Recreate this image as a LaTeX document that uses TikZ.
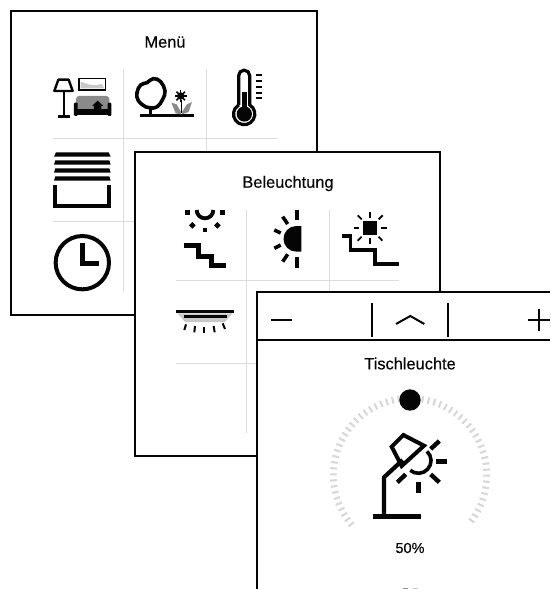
\documentclass[tikz,border=0pt]{standalone}
\usepackage{fontspec}
\setmainfont{Liberation Sans}
\newfontfamily\uifont[FakeBold=0.3]{Liberation Sans}
\definecolor{ink}{HTML}{050505}
\definecolor{gridc}{HTML}{DDDDDD}
\definecolor{tickc}{HTML}{D8D8D8}
\definecolor{midg}{HTML}{8A8A8A}
\definecolor{lightg}{HTML}{C8C8C8}
\tikzset{
  panel/.style={fill=white,draw=ink,line width=2pt},
  frameline/.style={draw=ink,line width=2pt},
  gridline/.style={draw=gridc,line width=1pt},
  titletext/.style={text=ink,font=\uifont\fontsize{16.4}{18}\selectfont,inner sep=0pt},
  ico/.style={draw=ink,line width=#1,line cap=butt},
  ico/.default=3pt,
  zoomA/.style={shift={(10,10)},x=0.33333pt,y=-0.33333pt},
  zoomB/.style={shift={(10,130)},x=0.33333pt,y=-0.33333pt},
  zoomC/.style={shift={(135,150)},x=0.33333pt,y=-0.33333pt},
  zoomD/.style={shift={(135,290)},x=0.33333pt,y=-0.33333pt},
  zoomE/.style={shift={(255,285)},x=0.33333pt,y=-0.33333pt},
  zoomF/.style={shift={(320,380)},x=0.33333pt,y=-0.33333pt},
}
\begin{document}
\begin{tikzpicture}[x=1pt,y=-1pt]
\clip (0,0) rectangle (550,589);
\fill[white] (0,0) rectangle (550,589);
% ---------- Panel 1
\draw[panel] (11,11) rectangle (317,315);
\node[titletext] (menu) at (165,42) {Menü};
\draw[gridline] (123,69) -- (123,292);
\draw[gridline] (206,69) -- (206,292);
\draw[gridline] (53,138.7) -- (277,138.7);
\draw[gridline] (53,221) -- (277,221);
\begin{scope}[zoomA]
  % floor lamp
  \draw[ico=2.4pt,line join=round] (145,209) -- (176,209) -- (188,243) -- (133,243) -- cycle;
  \draw[ico=2.6pt] (162,243) -- (162,318);
  \draw[ico=2.6pt] (145,319) -- (180,319);
  % picture
  \fill[lightg] (212,235) -- (212,215) -- (235,223) -- (255,226) -- (275,222) -- (283,235) -- cycle;
  \draw[ico=1.6pt] (207,205) rectangle (287,240);
  % sofa
  \fill[midg,rounded corners=3pt] (198,258) rectangle (298,300);
  \fill[ink,rounded corners=1pt] (192,278) rectangle (203,318);
  \fill[ink,rounded corners=1pt] (293,278) rectangle (304,318);
  \fill[ink] (192,297) rectangle (304,316);
  \fill[ink] (263,272) -- (280,288) -- (274,288) -- (274,297) -- (252,297) -- (252,288) -- (246,288) -- cycle;
  % tree
  \draw[ico=3.6pt] plot[smooth cycle,tension=0.7] coordinates {(408,291) (385,272) (381,248) (392,225) (411,218) (430,206) (452,215) (465,243) (458,268) (442,290) (423,294)};
  \draw[ico=3pt] (423,293) -- (423,317);
  \draw[ico=3.6pt] (390,317) -- (551,317);
  % flower
  \fill[midg] (484,278) -- (500,283) -- (513,306) -- (513,313) -- (497,310) -- cycle;
  \fill[midg] (546,276) -- (536,306) -- (516,313) -- (516,306) -- (530,284) -- cycle;
  \foreach \a in {0,45,...,315}{\draw[ico=1.6pt] (512,258) -- ++(\a:18);}
  \fill[ink] (512,258) circle[radius=11];
  \draw[ico=1.2pt] (514,270) -- (514,310);
  % thermometer
  \draw[ico=3.2pt] (686,284.6) -- (686,197) arc[start angle=180,end angle=360,radius=16.5] -- (719,284.6)
     arc[start angle=-59,end angle=239,radius=32];
  \fill[ink] (703,312) circle[radius=23];
  \fill[ink] (695,245) rectangle (712,300);
  \foreach \y in {195,212,230,248,265}{\draw[ico=2.2pt] (737,\y) -- (757,\y);}
\end{scope}
\begin{scope}[zoomB]
  % blinds
  \fill[ink] (138,67) -- (296,67) -- (302,80) -- (132,80) -- cycle;
  \fill[ink] (136,91) -- (298,91) -- (302,104) -- (132,104) -- cycle;
  \fill[ink] (136,115) -- (298,115) -- (302,128) -- (132,128) -- cycle;
  \fill[ink] (136,139) -- (298,139) -- (302,152) -- (132,152) -- cycle;
  \draw[ico=4.2pt,line join=miter] (136,165) -- (136,229) -- (297,229) -- (297,165);
  % clock
  \draw[ico=4pt] (217,398) circle[radius=80];
  \draw[ico=4.4pt] (217,338) -- (217,400) -- (268,400);
\end{scope}
% ---------- Panel 2
\draw[panel] (135,152) rectangle (440,456);
\node[titletext] (light) at (288,183.5) {Beleuchtung};
\draw[gridline] (246,210) -- (246,433);
\draw[gridline] (329,210) -- (329,433);
\draw[gridline] (176,280) -- (399,280);
\draw[gridline] (176,363) -- (399,363);
\begin{scope}[zoomC]
  % dusk/stairs icon
  \fill[ink] (150,180) rectangle (164,194);
  \fill[ink] (256,180) rectangle (270,194);
  \fill[ink] (203,233) rectangle (217,247);
  \fill[ink] (172,216) -- (182,226) -- (172,236) -- (162,226) -- cycle;
  \fill[ink] (247,216) -- (257,226) -- (247,236) -- (237,226) -- cycle;
  \draw[ico=3.8pt] (185,180) arc[start angle=180,end angle=0,radius=25];
  \draw[ico=5pt] (146,286) -- (190,286) -- (190,318) -- (228,318) -- (228,346) -- (274,346);
  % half sun
  \fill[ink] (499,228) -- (484,228) arc[start angle=270,end angle=90,radius=38.5] -- (499,305) -- cycle;
  \draw[ico=3.6pt] (486,180) -- (486,210);
  \draw[ico=3.6pt] (443,200) -- (458,222);
  \draw[ico=3.6pt] (418,240) -- (437,249);
  \draw[ico=3.6pt] (418,295) -- (437,285);
  \draw[ico=3.6pt] (443,335) -- (458,313);
  \draw[ico=3.6pt] (486,322) -- (486,353);
  % square sun stairs
  \fill[ink] (683,212) rectangle (727,256);
  \draw[ico=1.8pt] (705,187) -- (705,203);
  \draw[ico=1.8pt] (705,265) -- (705,282);
  \draw[ico=1.8pt] (657,234) -- (673,234);
  \draw[ico=1.8pt] (737,234) -- (755,234);
  \draw[ico=1.8pt] (668,196) -- (680,208);
  \draw[ico=1.8pt] (743,196) -- (731,208);
  \draw[ico=1.8pt] (668,272) -- (680,260);
  \draw[ico=1.8pt] (742,272) -- (731,260);
  \draw[ico=3.2pt] (620,258) -- (647,258) -- (647,300) -- (720,300) -- (720,342) -- (793,342);
\end{scope}
\begin{scope}[zoomD]
  % ceiling light
  \fill[lightg] (128,70) -- (292,70) -- (270,96) -- (150,96) -- cycle;
  \draw[ico=3.4pt] (123,65) -- (297,65);
  \draw[ico=3pt] (147,79) -- (275,79);
  \draw[ico=2pt] (153,103) -- (148,120);
  \draw[ico=2pt] (180,108) -- (178,127);
  \draw[ico=2pt] (208,112) -- (208,130);
  \draw[ico=2pt] (236,108) -- (239,127);
  \draw[ico=2pt] (263,100) -- (270,117);
\end{scope}
% ---------- Panel 3
\fill[white] (257,292) rectangle (550,589);
\draw[frameline] (550,292) -- (257,292) -- (257,589);
\draw[frameline] (257,340) -- (550,340);
\node[titletext] (lamp) at (410,363.5) {Tischleuchte};
\begin{scope}[zoomE]
  \draw[ico=2pt] (47,105) -- (110,105);
  \draw[ico=2pt] (350,55) -- (350,157);
  \draw[ico=2pt] (580,55) -- (580,157);
  \draw[ico=2pt] (423,117) -- (466,93) -- (508,117);
  \draw[ico=2pt] (820,105) -- (885,105);
  \draw[ico=2pt] (851,72) -- (851,137);
\end{scope}
\begin{scope}[zoomF]
  \foreach \a in {140,144.5,...,400}{\draw[draw=tickc,line width=2.1pt] (270,285) ++(\a:220) -- ++(\a:20);}
  \fill[ink] (270,60) circle[radius=32];
  \draw[ico=5pt] (158,410) -- (302,410);
  \draw[ico=4.2pt,line join=miter] (192,410) -- (192,292) -- (248,240);
  \draw[ico=4pt,line join=miter] (215,200) -- (250,165) -- (312,197) -- (245,258) -- cycle;
  \draw[ico=3.6pt] (321,214) arc[start angle=-47,end angle=130,radius=38];
  \draw[ico=4.4pt] (358,183) -- (332,207);
  \draw[ico=5pt] (348,245) -- (382,245);
  \draw[ico=4.4pt] (332,283) -- (358,307);
  \draw[ico=5pt] (295,305) -- (295,338);
  \draw[ico=4.4pt] (257,283) -- (232,307);
\end{scope}
\node[titletext,font=\uifont\fontsize{14.5}{16}\selectfont] (pct) at (410,548) {50\%};
\fill[midg] (403,588) rectangle (407.5,589);
\fill[lightg] (413,588) rectangle (417.5,589);
\end{tikzpicture}
\end{document}
